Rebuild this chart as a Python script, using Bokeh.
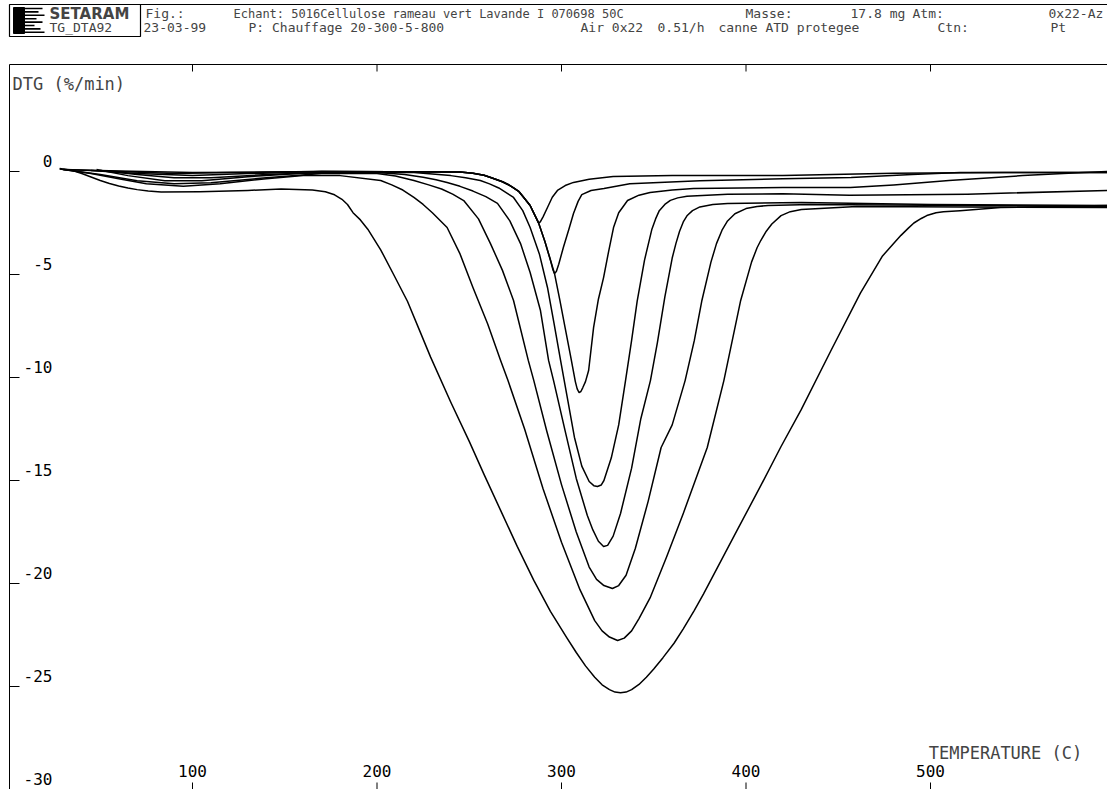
from bokeh.plotting import figure
from bokeh.models import Range1d, Label
from bokeh.embed import file_html
from bokeh.resources import INLINE
from bokeh.core.properties import value

# ---------------- data ----------------
# temperature (C) and DTG (%/min) for eight runs, from shallowest to deepest peak
c1_t = [30, 60, 100, 140, 170, 245, 252, 258, 262, 265, 268, 271, 274, 277, 279, 283, 286.5, 287.5, 288.5, 290, 292.4, 295, 297.8, 302, 306.5, 315, 328, 360, 420, 480, 540, 596]
c1_v = [0.1, 0.02, -0.05, -0.03, 0.0, -0.02, -0.08, -0.18, -0.3, -0.4, -0.5, -0.63, -0.8, -0.98, -1.2, -1.65, -2.3, -2.48, -2.45, -2.2, -1.75, -1.25, -0.92, -0.68, -0.53, -0.38, -0.24, -0.2, -0.19, -0.08, -0.05, -0.05]

c2_t = [30, 60, 90, 120, 170, 245, 252, 258, 262, 265, 268, 271, 274, 277, 279, 283, 287.5, 291, 294, 295.3, 296.2, 297.2, 298.5, 301, 304, 306.5, 309, 311, 316, 323, 337, 375, 420, 457, 490, 516, 596]
c2_v = [0.1, 0.0, -0.1, -0.05, 0.0, -0.02, -0.08, -0.18, -0.3, -0.4, -0.5, -0.63, -0.8, -0.98, -1.2, -1.65, -2.48, -3.4, -4.3, -4.75, -4.95, -4.85, -4.5, -3.69, -2.8, -2.04, -1.45, -1.12, -0.92, -0.83, -0.6, -0.45, -0.35, -0.29, -0.15, -0.05, -0.05]

c3_t = [45, 70, 100, 130, 170, 245, 252, 258, 262, 265, 268, 271, 274, 277, 279, 283, 287.5, 291, 294, 296.2, 299, 302, 305, 307.5, 308.5, 309.5, 310.5, 311.5, 313, 314.7, 317.4, 320, 322.8, 325.5, 328.2, 331, 335.8, 342, 348, 360, 371.5, 420, 456.6, 480, 510, 550, 583, 596]
c3_v = [0.05, -0.1, -0.2, -0.1, 0.0, -0.02, -0.08, -0.18, -0.3, -0.4, -0.5, -0.63, -0.8, -0.98, -1.2, -1.65, -2.48, -3.4, -4.3, -4.95, -6.2, -7.6, -9.0, -10.2, -10.55, -10.73, -10.68, -10.5, -10.2, -9.66, -7.57, -6.2, -5.15, -3.9, -2.72, -2.0, -1.41, -1.15, -1.02, -0.9, -0.83, -0.78, -0.78, -0.65, -0.44, -0.2, -0.05, 0.0]

c4_t = [50, 70, 90, 110, 140, 170, 220, 240, 248, 256, 261, 266, 274, 279, 283, 288, 292.4, 296, 299.5, 303, 307, 311, 315, 317.5, 319.5, 321.5, 323, 327, 331, 334.7, 338, 341, 345, 349, 351, 353, 356, 359, 363, 368, 390, 420, 456, 520, 596]
c4_v = [0.05, -0.15, -0.3, -0.3, -0.15, -0.05, -0.05, -0.2, -0.3, -0.44, -0.6, -0.8, -1.26, -1.9, -2.72, -4.0, -5.63, -7.4, -9.17, -10.9, -12.9, -14.3, -15.05, -15.25, -15.29, -15.22, -15.0, -13.9, -12.3, -10.15, -8.2, -6.3, -4.3, -2.8, -2.3, -1.9, -1.6, -1.4, -1.28, -1.2, -1.1, -1.08, -1.15, -1.1, -0.92]

c5_t = [48, 65, 85, 105, 130, 160, 200, 215, 225, 232, 238, 245, 252, 259, 265.3, 272, 277.8, 283, 288.6, 293, 295.7, 302, 308, 314, 317, 320, 322.8, 325, 328, 332, 338, 343, 348.2, 352, 356, 360, 362, 364, 366, 368, 371, 375, 382, 390, 430, 500, 596]
c5_v = [0.1, -0.2, -0.45, -0.45, -0.25, -0.08, -0.05, -0.15, -0.28, -0.4, -0.53, -0.72, -0.95, -1.22, -1.55, -2.4, -3.5, -4.9, -6.75, -9.17, -10.15, -12.6, -14.9, -16.7, -17.4, -17.95, -18.2, -18.15, -17.7, -16.6, -14.4, -12.0, -10.15, -8.3, -6.1, -4.2, -3.5, -2.9, -2.45, -2.15, -1.9, -1.72, -1.6, -1.55, -1.5, -1.6, -1.65]

c6_t = [30, 50, 70, 90, 110, 140, 170, 200, 210, 220, 228, 235, 241, 247, 255, 261.5, 268, 274, 282, 285, 292, 300, 308, 315, 319, 323, 327.6, 331, 335, 340, 347, 354, 360, 367, 372, 376, 381, 384, 387, 390, 394, 400, 406, 412, 435, 520, 596]
c6_v = [0.1, -0.15, -0.45, -0.6, -0.55, -0.3, -0.1, -0.1, -0.22, -0.44, -0.65, -0.85, -1.1, -1.41, -2.3, -3.5, -4.8, -6.26, -9.17, -10.15, -12.6, -15.2, -17.5, -19.2, -19.8, -20.1, -20.24, -20.1, -19.6, -18.3, -16.0, -13.4, -12.3, -10.15, -8.2, -6.3, -4.4, -3.5, -2.85, -2.4, -2.05, -1.8, -1.7, -1.65, -1.6, -1.65, -1.7]

c7_t = [28, 45, 60, 75, 95, 115, 140, 160, 180, 202, 208, 214, 220, 225, 230, 238, 245, 252, 260, 267, 271, 280, 290, 300, 310, 318, 322, 326, 330.4, 334, 338, 342, 348, 357, 366, 379, 388, 397, 403, 406, 408, 411, 414, 419, 424, 430, 460, 596]
c7_v = [0.12, -0.1, -0.35, -0.6, -0.72, -0.6, -0.35, -0.2, -0.2, -0.44, -0.65, -0.9, -1.26, -1.6, -2.0, -2.72, -4.0, -5.63, -7.4, -9.17, -10.15, -12.5, -15.4, -18.0, -20.3, -21.8, -22.3, -22.6, -22.77, -22.65, -22.3, -21.7, -20.7, -18.7, -16.6, -13.4, -10.15, -6.3, -4.4, -3.7, -3.35, -2.9, -2.55, -2.14, -1.95, -1.85, -1.7, -1.75]

c8_t = [28, 35, 40, 45, 50, 55, 60, 65, 70, 76, 83, 104, 130, 148, 165, 172, 177, 181, 184, 187, 191, 195, 202, 209, 216.5, 223, 229, 240, 250, 258, 267, 276, 285, 294, 303, 308, 313, 318, 322, 326, 329, 332, 335, 338, 342, 346, 350, 355, 361, 366, 372, 377, 382, 395, 408, 419, 430, 446, 462, 474, 480, 484, 488, 491, 495, 498, 503, 507, 516, 538, 596]
c8_v = [0.15, 0.05, -0.1, -0.27, -0.44, -0.58, -0.7, -0.8, -0.88, -0.95, -1.0, -0.98, -0.92, -0.85, -0.9, -0.98, -1.13, -1.35, -1.6, -2.0, -2.35, -2.8, -3.8, -5.0, -6.3, -7.7, -9.0, -11.2, -13.1, -14.7, -16.45, -18.2, -19.85, -21.35, -22.65, -23.35, -24.0, -24.55, -24.92, -25.15, -25.27, -25.3, -25.27, -25.15, -24.9, -24.55, -24.15, -23.6, -22.9, -22.2, -21.3, -20.5, -19.65, -17.45, -15.25, -13.35, -11.55, -8.7, -5.9, -4.1, -3.5, -3.1, -2.75, -2.5, -2.28, -2.14, -2.0, -1.95, -1.9, -1.75, -1.65]

x_ticks = [100, 200, 300, 400, 500]
x_tick_labels = ["100", "200", "300", "400", "500"]
y_ticks = [0, -5, -10, -15, -20, -25, -30]
y_tick_labels = ["0", "-5", "-10", "-15", "-20", "-25", "-30"]

# ---------------- layout calibration (pixel <-> data) ----------------
W, H = 1107, 789
X0, SX = 7.5, 1.845      # px of 0 C, px per degree
Y0, SY = 171.0, 20.6     # px of 0 %/min, px per unit


def X(px):
    return (px - X0) / SX


def Y(py):
    return (Y0 - py) / SY


FONT = "DejaVu Sans Mono"

p = figure(width=W, height=H, x_range=Range1d(X(0), X(W)), y_range=Range1d(Y(H), Y(0)),
           min_border=0, toolbar_location=None, output_backend="svg",
           x_axis_type=None, y_axis_type=None, title=None)
p.outline_line_color = None
p.background_fill_color = "white"
p.border_fill_color = "white"

# ---------------- curves ----------------
for t, v in [(c1_t, c1_v), (c2_t, c2_v), (c3_t, c3_v), (c4_t, c4_v),
             (c5_t, c5_v), (c6_t, c6_v), (c7_t, c7_v), (c8_t, c8_v)]:
    p.line(t, v, line_color="black", line_width=1.5, line_join="round")

# ---------------- frame ----------------
frame_top = 64
frame_left = 9
p.line([X(frame_left), X(frame_left)], [Y(frame_top), Y(H)], line_color="black", line_width=1)
p.line([X(frame_left), X(W)], [Y(frame_top), Y(frame_top)], line_color="black", line_width=1)

# y ticks (inside, on the left frame) and labels
for yt in y_ticks:
    if yt > -30:
        p.line([X(frame_left), X(frame_left + 10)], [yt, yt], line_color="black", line_width=1)
p.text(x=[X(52)] * len(y_ticks), y=[v + 11 / SY for v in y_ticks], text=y_tick_labels,
       text_align="right", text_baseline="middle", text_font=value(FONT),
       text_font_size="16px", text_color="black")

# x ticks top and bottom, labels
for xt in x_ticks:
    p.line([xt, xt], [Y(frame_top), Y(frame_top + 7)], line_color="black", line_width=1)
    p.line([xt, xt], [Y(H - 7), Y(H)], line_color="black", line_width=1)
p.text(x=x_ticks, y=[Y(770)] * len(x_ticks), text=x_tick_labels,
       text_align="center", text_baseline="middle", text_font=value(FONT),
       text_font_size="16px", text_color="black")

p.add_layout(Label(x=X(1092), y=Y(752), text="TEMPERATURE  (C)", text_align="right",
                   text_baseline="middle", text_font=FONT, text_font_size="17px"))
p.add_layout(Label(x=X(12), y=Y(83), text="DTG  (%/min)", text_align="left",
                   text_baseline="middle", text_font=FONT, text_font_size="17px"))

# ---------------- header ----------------
p.line([X(frame_left), X(W)], [Y(4), Y(4)], line_color="black", line_width=1)
# logo box
p.line([X(9), X(140), X(140), X(9), X(9)], [Y(4), Y(4), Y(36), Y(36), Y(4)], line_color="black", line_width=1.2)
p.quad(left=[X(13)], right=[X(24)], top=[Y(7)], bottom=[Y(33)], fill_color="black", line_color="black")
for i, ln in enumerate([18, 14, 20, 12, 18, 10, 16, 20]):
    yy = 8 + i * 3.4
    p.line([X(24), X(24 + ln)], [Y(yy), Y(yy)], line_color="black", line_width=1.6)

r1, r2 = 13, 27
hdr = dict(text_baseline="middle", text_font=FONT, text_font_size="13px")
p.add_layout(Label(x=X(49), y=Y(r1), text="SETARAM", text_font_style="bold",
                   text_baseline="middle", text_font="DejaVu Sans", text_font_size="15px"))
p.add_layout(Label(x=X(49), y=Y(r2), text="TG_DTA92", **hdr))
p.add_layout(Label(x=X(145), y=Y(r1), text="Fig.:", **hdr))
p.add_layout(Label(x=X(143), y=Y(r2), text="23-03-99", **hdr))
p.add_layout(Label(x=X(233), y=Y(r1), text="Echant: 5016Cellulose rameau vert Lavande I 070698 50C",
                   text_baseline="middle", text_font=FONT, text_font_size="12px"))
p.add_layout(Label(x=X(248), y=Y(r2), text="P: Chauffage 20-300-5-800", **hdr))
p.add_layout(Label(x=X(745), y=Y(r1), text="Masse:", **hdr))
p.add_layout(Label(x=X(850), y=Y(r1), text="17.8 mg", **hdr))
p.add_layout(Label(x=X(912), y=Y(r1), text="Atm:", **hdr))
p.add_layout(Label(x=X(1048), y=Y(r1), text="0x22-Az", **hdr))
p.add_layout(Label(x=X(580), y=Y(r2), text="Air 0x22", **hdr))
p.add_layout(Label(x=X(657), y=Y(r2), text="0.51/h", **hdr))
p.add_layout(Label(x=X(718), y=Y(r2), text="canne ATD protegee", **hdr))
p.add_layout(Label(x=X(937), y=Y(r2), text="Ctn:", **hdr))
p.add_layout(Label(x=X(1050), y=Y(r2), text="Pt", **hdr))

open("out.html", "w").write(file_html(p, INLINE))
